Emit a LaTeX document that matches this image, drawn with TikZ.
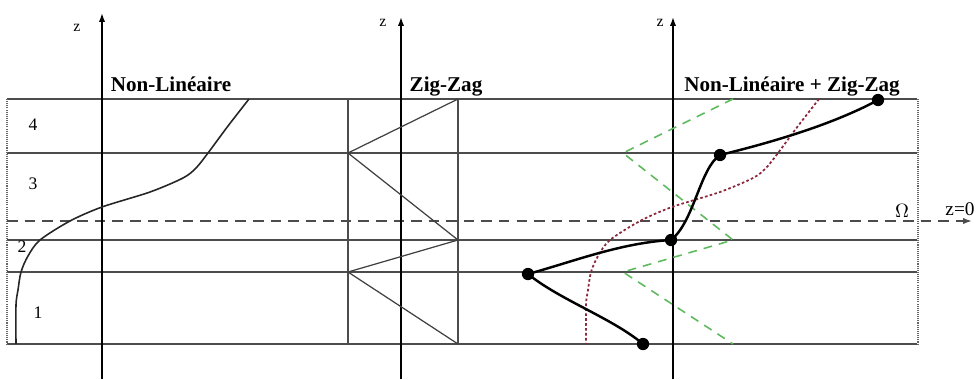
\documentclass[tikz,border=0pt]{standalone}
\usepackage{fontspec}
\setmainfont{Liberation Serif}
\usetikzlibrary{arrows.meta}
\definecolor{zzgreen}{RGB}{95,185,95}
\definecolor{nlred}{RGB}{140,40,60}
\begin{document}
\begin{tikzpicture}[x=0.02cm,y=-0.02cm,
  gridline/.style={black!70,line width=0.7pt},
  axisline/.style={black,line width=0.8pt,-{Latex[length=5pt,width=3.5pt]}},
  edgeline/.style={black!60,line width=0.8pt,dash pattern=on 0.6pt off 0.6pt},
  zline/.style={black!70,line width=0.9pt,dash pattern=on 6pt off 4pt},
  titletext/.style={font=\fontsize{12}{14}\selectfont\bfseries,anchor=base,inner sep=0pt},
  layertext/.style={font=\fontsize{10}{12}\selectfont,inner sep=0pt},
  zlab/.style={font=\fontsize{9}{10}\selectfont,inner sep=0pt},
  dotnode/.style={circle,fill=black,inner sep=0pt,minimum size=7pt},
  nlcurve/.style={black!85,line width=0.9pt},
  mixcurve/.style={black,line width=1.4pt},
  greenzz/.style={zzgreen,line width=0.9pt,dash pattern=on 5pt off 4pt},
  redcurve/.style={nlred,line width=1pt,dash pattern=on 1.5pt off 1.3pt}
]
\useasboundingbox (0,0) rectangle (979,379);

% horizontal layer lines
\foreach \yy in {99,153,240,272,344}
  \draw[gridline] (7,\yy) -- (917,\yy);
% side dotted borders
\draw[edgeline] (7,99) -- (7,344);
\draw[edgeline] (918,99) -- (918,344);
% z = 0 dashed line
\coordinate (zs) at (7,221);
\coordinate (ze) at (972,221);
\draw[zline,-{Latex[length=5pt,width=3.5pt]}] (zs) -- (ze);

% axes
\draw[axisline] (102,379) -- (102,13);
\draw[axisline] (401,379) -- (401,17);
\draw[axisline] (673,379) -- (673,17);
\node[zlab] (z1) at (77,28) {z};
\node[zlab] (z2) at (383,23) {z};
\node[zlab] (z3) at (660,23) {z};

% titles
\node[titletext] (t1) at (171,91) {Non-Linéaire};
\node[titletext] (t2) at (446,91) {Zig-Zag};
\node[titletext] (t3) at (792,91) {Non-Linéaire + Zig-Zag};

% layer numbers
\node[layertext] (l4) at (33,125) {4};
\node[layertext] (l3) at (33,184) {3};
\node[layertext] (l2) at (22,247) {2};
\node[layertext] (l1) at (38,313) {1};

% Omega and z=0
\node[font=\fontsize{11}{12}\selectfont,inner sep=0pt] (om) at (902,211) {$\Omega$};
\node[font=\fontsize{11}{12}\selectfont,inner sep=0pt] (z0) at (960,209) {z=0};

% non-linear curve
\draw[nlcurve] plot[smooth,tension=0.5] coordinates
  {(249,99) (228,126) (208,153) (196,168) (183,178) (150,192) (102,207) (70,221) (40,240) (28,256) (21,272) (18,290) (16,305) (16,344)};

% zig-zag panel
\draw[gridline] (348,99) -- (348,344);
\draw[gridline] (458,99) -- (458,344);
\draw[black!75,line width=0.7pt] (458,99) -- (348,153) -- (458,240) -- (348,272) -- (458,344);

% combined panel: green zig-zag and red non-linear
\draw[greenzz] (733,99) -- (623,153) -- (733,240) -- (623,272) -- (733,344);
\draw[redcurve,xshift=570*0.02cm] plot[smooth,tension=0.5] coordinates
  {(249,99) (228,126) (208,153) (196,168) (183,178) (150,192) (102,207) (70,221) (40,240) (28,256) (21,272) (18,290) (16,305) (16,344)};

% combined curve with dots
\node[dotnode] (d1) at (878,100) {};
\node[dotnode] (d2) at (720,155) {};
\node[dotnode] (d3) at (671,240) {};
\node[dotnode] (d4) at (528,274) {};
\node[dotnode] (d5) at (643,344) {};
\draw[mixcurve] (d1.center) .. controls (830,126) and (765,144) .. (d2.center);
\draw[mixcurve] (d2.center) .. controls (700,168) and (694,222) .. (d3.center);
\draw[mixcurve] (d3.center) .. controls (620,243) and (572,262) .. (d4.center);
\draw[mixcurve] (d4.center) .. controls (560,300) and (612,318) .. (d5.center);
\end{tikzpicture}
\end{document}
